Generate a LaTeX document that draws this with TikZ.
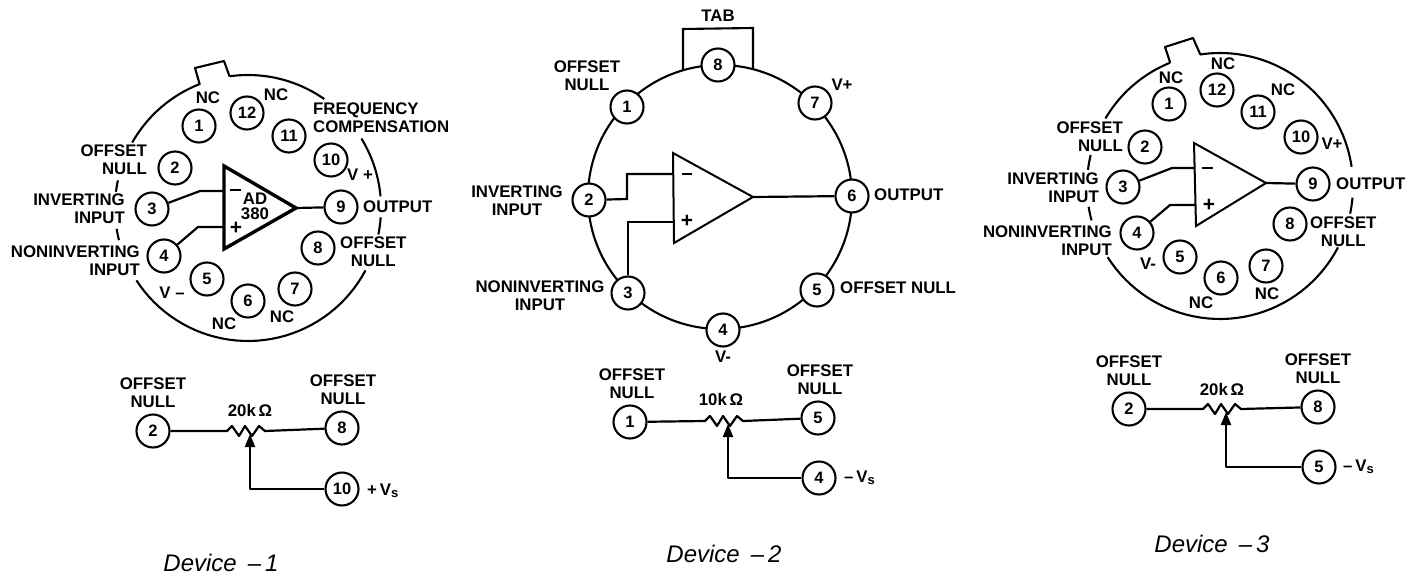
\documentclass[tikz,border=0pt]{standalone}
\usepackage{fontspec}
\setmainfont{Liberation Sans}
\usetikzlibrary{arrows.meta}
\newcommand\ringarc[5]{\draw[ring] plot[domain=#4:#5,samples=40] ({#1+#3*cos(\x)},{#2+#3*sin(\x)});}
\newcommand\Vsub{V\raisebox{-2.5pt}{\fontsize{13}{13}\selectfont s}}
\newcommand\zigpath{-- ++(5,-5) -- ++(7,10) -- ++(6,-10) -- ++(7,10) -- ++(7,-10) -- ++(6,5)}
\tikzset{
  ring/.style={line width=2.1pt,black},
  wire/.style={line width=2.2pt,black,line join=round},
  ampline/.style={line width=2pt,black,line join=miter},
  ampbold/.style={line width=3.4pt,black,line join=miter},
  pinc/.style={circle,draw,line width=2.1pt,fill=white,minimum size=33pt,inner sep=0pt,font=\fontsize{16.5}{18}\selectfont\bfseries},
  lab/.style={inner sep=0pt,align=center,font=\fontsize{16.8}{18}\selectfont\bfseries},
  labr/.style={lab,align=right,anchor=east},
  labl/.style={lab,align=left,anchor=west},
  sgn/.style={inner sep=0pt,font=\fontsize{21}{21}\selectfont\bfseries},
  devcap/.style={inner sep=0pt,font=\fontsize{24}{24}\selectfont\itshape},
  wiper/.style={wire,-{Triangle[length=13pt,width=10pt]}}
}
\begin{document}
\begin{tikzpicture}[x=1pt,y=-1pt]
\useasboundingbox (0,0) rectangle (1418,578);
% ===== Device 1 =====
\ringarc{248}{208}{133}{-98}{-55}
\ringarc{248}{208}{133}{-31.5}{-5}
\ringarc{248}{208}{133}{4}{11.5}
\ringarc{248}{208}{133}{28}{147}
\ringarc{248}{208}{133}{166}{171}
\ringarc{248}{208}{133}{187}{192}
\ringarc{248}{208}{133}{209.5}{249}
\draw[ring,line join=round] (199.6,84) -- (195,68) -- (224,61) -- (229.6,76.5);
\foreach \n/\x/\y in {1/199/126,12/247/113,11/289/136,10/331/160,9/341/207,8/318/248,7/295/289,6/248/301,5/207/279,4/164/256,3/152/209,2/175/168}
  \node[pinc] (a\n) at (\x,\y) {\n};
\coordinate (aT) at (224,166); \coordinate (aO) at (296,208); \coordinate (aB) at (224,249);
\draw[ampbold] (aT) -- (aO) -- (aB) -- cycle;
\coordinate (aim) at (200,191); \coordinate (aie) at (224,191);
\coordinate (aip) at (198,227); \coordinate (aif) at (224,227);
\draw[wire] (a3) -- (aim) -- (aie);
\draw[wire] (a4) -- (aip) -- (aif);
\draw[wire] (aO) -- (a9);
\node[sgn] (aminus) at (235,190) {\rule{11pt}{2.4pt}};
\node[sgn] (aplus) at (236,228) {+};
\node[lab] (aname) at (255,206) {AD\\[-3pt]380};
\node[lab] (anc1) at (208,98) {NC};
\node[lab] (anc12) at (276,95) {NC};
\node[labl] (afc) at (313,118) {FREQUENCY\\COMPENSATION};
\node[labr] (aon) at (147,160) {OFFSET\\NULL};
\node[labr] (ainv) at (125,209) {INVERTING\\INPUT};
\node[labr] (anon) at (140,261) {NONINVERTING\\INPUT};
\node[lab] (avm) at (172,293) {V –};
\node[lab] (avp) at (360,175) {V +};
\node[labl] (aout) at (363,207) {OUTPUT};
\node[lab,anchor=west] (aon2) at (340,252) {OFFSET\\NULL};
\node[lab] (anc6) at (224,324) {NC};
\node[lab] (anc7) at (282,317) {NC};
% lower
\node[pinc] (b2) at (153,431) {2};
\node[pinc] (b8) at (342,428) {8};
\node[pinc] (b10) at (342,489) {10};
\coordinate (br1) at (227,431); \coordinate (bt) at (250,434);
\draw[wire] (b2) -- (br1) \zigpath -- (b8);
\draw[wiper] (b10) -| (bt);
\node[lab] (bo1) at (153,393) {OFFSET\\NULL};
\node[lab] (bo2) at (343,390) {OFFSET\\NULL};
\node[lab] (bk) at (250,410) {20k\,Ω};
\node[labl] (bv) at (367,491) {+\,\Vsub};
\node[devcap] (bc) at (221,563) {Device\hspace{11pt}–\hspace{4pt}1};
% ===== Device 2 =====
\draw[ring] (720,197) circle[radius=132];
\coordinate (tabL) at (683,70); \coordinate (tabLt) at (683,29);
\coordinate (tabRt) at (753,28); \coordinate (tabR) at (753,69);
\draw[ring,line join=miter] (tabL) -- (tabLt) -- (tabRt) -- (tabR);
\foreach \n/\x/\y in {8/718/65,1/627/107,7/815/103,2/589/200,6/852/196,3/628/293,5/817/290,4/723/330}
  \node[pinc] (c\n) at (\x,\y) {\n};
\coordinate (cT) at (673,153); \coordinate (cO) at (753,197); \coordinate (cB) at (674,243);
\draw[ampline] (cT) -- (cO) -- (cB) -- cycle;
\coordinate (cb1) at (627,199); \coordinate (cb2) at (627,174); \coordinate (cie) at (673,174);
\coordinate (cb3) at (629,222); \coordinate (cif) at (673,222);
\draw[wire,line join=miter] (c2) -- (cb1) -- (cb2) -- (cie);
\draw[wire,line join=miter] (c3) -- (c3 |- cb3) -- (cif);
\draw[wire] (cO) -- (c6);
\node[sgn] (cminus) at (687,174) {\rule{10pt}{2.2pt}};
\node[sgn] (cplus) at (687,221) {+};
\node[lab] (ctab) at (718,16) {TAB};
\node[lab] (co1) at (587,76) {OFFSET\\NULL};
\node[lab] (cvp) at (842,85) {V+};
\node[lab] (cinv) at (517,201) {INVERTING\\INPUT};
\node[labl] (cout) at (874,195) {OUTPUT};
\node[lab] (cnon) at (540,296) {NONINVERTING\\INPUT};
\node[labl] (co5) at (840,288) {OFFSET NULL};
\node[lab] (cvm) at (723,357) {V-};
% lower
\node[pinc] (d1) at (630,422) {1};
\node[pinc] (d5) at (818,418) {5};
\node[pinc] (d4) at (819,478) {4};
\coordinate (dr1) at (705,421); \coordinate (dt) at (728,424);
\draw[wire] (d1) -- (dr1) \zigpath -- (d5);
\draw[wiper] (d4) -| (dt);
\node[lab] (do1) at (632,384) {OFFSET\\NULL};
\node[lab] (do2) at (820,380) {OFFSET\\NULL};
\node[lab] (dk) at (721,399) {10k\,Ω};
\node[labl] (dv) at (844,478) {–\,\Vsub};
\node[devcap] (dc) at (724,554) {Device\hspace{11pt}–\hspace{4pt}2};
% ===== Device 3 =====
\ringarc{1220}{186}{133}{-98.6}{-8.3}
\ringarc{1220}{186}{133}{5}{12}
\ringarc{1220}{186}{133}{27.5}{147.6}
\ringarc{1220}{186}{133}{165}{171}
\ringarc{1220}{186}{133}{187}{193.5}
\ringarc{1220}{186}{133}{210.5}{248}
\draw[ring,line join=round] (1170.2,62.6) -- (1165,47) -- (1193,38) -- (1200.3,54.5);
\foreach \n/\x/\y in {1/1169/104,12/1217/90,11/1258/112,10/1301/137,9/1313/184,8/1290/224,7/1266/266,6/1221/278,5/1180/257,4/1137/233,3/1123/187,2/1145/147}
  \node[pinc] (e\n) at (\x,\y) {\n};
\coordinate (eT) at (1194,143); \coordinate (eO) at (1266,183); \coordinate (eB) at (1196,226);
\draw[ampline] (eT) -- (eO) -- (eB) -- cycle;
\coordinate (eim) at (1172,168); \coordinate (eie) at (1195,168);
\coordinate (eip) at (1170,205); \coordinate (eif) at (1195,205);
\draw[wire] (e3) -- (eim) -- (eie);
\draw[wire] (e4) -- (eip) -- (eif);
\draw[wire] (eO) -- (e9);
\node[sgn] (eminus) at (1207,168) {\rule{11pt}{2.4pt}};
\node[sgn] (eplus) at (1209,205) {+};
\node[lab] (enc1) at (1171,78) {NC};
\node[lab] (enc12) at (1223,64) {NC};
\node[lab] (enc11) at (1283,90) {NC};
\node[lab] (evp) at (1332,144) {V+};
\node[labl] (eout) at (1336,184) {OUTPUT};
\node[lab,anchor=west] (eo8) at (1310,232) {OFFSET\\NULL};
\node[lab] (enc7) at (1267,294) {NC};
\node[lab] (enc6) at (1201,303) {NC};
\node[lab] (evm) at (1148,264) {V-};
\node[labr] (eo2) at (1123,137) {OFFSET\\NULL};
\node[labr] (einv) at (1099,188) {INVERTING\\INPUT};
\node[labr] (enon) at (1112,241) {NONINVERTING\\INPUT};
% lower
\node[pinc] (f2) at (1129,409) {2};
\node[pinc] (f8) at (1318,407) {8};
\node[pinc] (f5) at (1319,467) {5};
\coordinate (fr1) at (1203,409); \coordinate (ft) at (1226,412);
\draw[wire] (f2) -- (fr1) \zigpath -- (f8);
\draw[wiper] (f5) -| (ft);
\node[lab] (fo1) at (1129,371) {OFFSET\\NULL};
\node[lab] (fo2) at (1318,369) {OFFSET\\NULL};
\node[lab] (fk) at (1222,389) {20k\,Ω};
\node[labl] (fv) at (1343,467) {–\,\Vsub};
\node[devcap] (fc) at (1212,544) {Device\hspace{11pt}–\hspace{4pt}3};
\end{tikzpicture}
\end{document}
